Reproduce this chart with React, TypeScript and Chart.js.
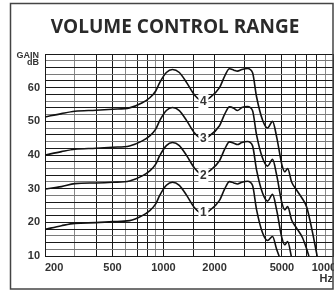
import React, { useEffect, useRef } from 'react';
import { Chart, registerables } from 'chart.js';
Chart.register(...registerables);

const chartTitle = 'VOLUME CONTROL RANGE';
const yAxisTitle = ['GAIN', 'dB'];
const xUnit = 'Hz';

const gridFreqs = [200, 300, 400, 500, 600, 700, 800, 900, 1000, 1500, 2000, 3000, 4000, 5000, 6000, 7000, 8000, 9000, 10000];
const grayFreqs = [300, 600, 900, 9000];
const xLabelFreqs = [200, 500, 1000, 2000, 5000, 10000];
const gainTicks = [10, 12, 14, 16, 18, 20, 22, 24, 26, 28, 30, 32, 34, 36, 38, 40, 42, 44, 46, 48, 50, 52, 54, 56, 58, 60, 62, 64, 66, 68, 70];
const grayGains = [12, 16, 24, 28, 32, 36, 44, 48, 52, 56, 64, 68];
const gainLabels = [10, 20, 30, 40, 50, 60];

const freq4 = [200, 250, 300, 400, 500, 630, 750, 830, 900, 950, 1040, 1130, 1240, 1370, 1520, 1700, 1870, 2140, 2300, 2450, 2600, 2730, 2900, 3130, 3350, 3540, 3840, 4110, 4400, 4650, 5000, 5200, 5400, 5700, 6100, 6600, 7000, 7500, 8100];
const gain4 = [51.3, 52.3, 53, 53.3, 53.6, 54, 55.5, 57, 59, 61.5, 64.5, 65.4, 64.5, 61.5, 57.9, 56, 57, 60, 63.5, 65.6, 65.2, 64.9, 65.4, 65.7, 64.5, 57.3, 50.4, 48, 50, 45.4, 37, 35, 36, 32, 29.6, 27, 24.5, 18, 9.5];

const freq3 = [200, 250, 300, 400, 500, 630, 750, 830, 900, 950, 1040, 1130, 1240, 1370, 1520, 1700, 1870, 2140, 2300, 2450, 2600, 2730, 2900, 3130, 3350, 3540, 3840, 4110, 4400, 4650, 5000, 5200, 5400, 5700, 6100, 6600, 7000, 7250];
const gain3 = [40, 41, 41.7, 42, 42.3, 42.7, 44.2, 45.7, 47.7, 50.2, 53.2, 54.1, 53.2, 50.2, 46.6, 44.8, 45.7, 48.7, 52.2, 54.3, 53.9, 53.2, 54.1, 54.4, 53.2, 46, 39.1, 36.7, 38.7, 34.1, 25.7, 23.7, 24.7, 20.7, 18.3, 15.5, 12, 9.5];

const freq2 = [200, 250, 300, 400, 500, 630, 750, 830, 900, 950, 1040, 1130, 1240, 1370, 1520, 1700, 1870, 2140, 2300, 2450, 2600, 2730, 2900, 3130, 3350, 3540, 3840, 4110, 4400, 4650, 5000, 5200, 5400, 5700];
const gain2 = [29.9, 30.6, 31.5, 31.7, 31.9, 32.3, 33.8, 35.3, 37.3, 39.8, 42.8, 43.7, 42.8, 39.8, 36.2, 34.2, 35.3, 38.3, 41.8, 43.9, 43.5, 43.1, 43.7, 44, 42.8, 35.6, 28.7, 26.3, 28.3, 23.7, 15.3, 13.3, 14.3, 9.5];

const freq1 = [200, 250, 300, 400, 500, 630, 750, 830, 900, 950, 1040, 1130, 1240, 1370, 1520, 1700, 1870, 2140, 2300, 2450, 2600, 2730, 2900, 3130, 3350, 3540, 3840, 4110, 4400, 4650, 4850];
const gain1 = [17.9, 19, 19.7, 19.9, 20.2, 20.5, 22, 23.5, 25.5, 28, 31, 31.9, 31, 28, 24.4, 22.6, 23.5, 26.5, 30, 32.1, 31.7, 31.4, 31.9, 32.2, 31, 23.8, 16.9, 14.6, 15.8, 12, 9.5];

const curveNames = ['1', '2', '3', '4'];
const curveLabelFreq = 1720;
const curveLabelGains = [23, 34, 45, 56];

const FONT = '"Liberation Sans", Arial, sans-serif';

export default function App() {
  const ref = useRef<HTMLCanvasElement>(null);
  useEffect(() => {
    const canvas = ref.current!;
    const mk = (f: number[], g: number[]) => f.map((x, i) => ({ x, y: g[i] }));
    const series = [mk(freq1, gain1), mk(freq2, gain2), mk(freq3, gain3), mk(freq4, gain4)];

    const deco = {
      id: 'deco',
      afterDraw(chart: any) {
        const ctx = chart.ctx as CanvasRenderingContext2D;
        const xs = chart.scales.x;
        const ys = chart.scales.y;
        const area = chart.chartArea;
        ctx.save();
        // curve number labels
        ctx.font = `bold 12px ${FONT}`;
        ctx.textAlign = 'center';
        ctx.textBaseline = 'middle';
        curveNames.forEach((n, i) => {
          const px = xs.getPixelForValue(curveLabelFreq);
          const py = ys.getPixelForValue(curveLabelGains[i]);
          ctx.fillStyle = '#fff';
          ctx.fillRect(px - 5, py - 7, 10, 14);
          ctx.fillStyle = '#333';
          ctx.fillText(n, px, py + 0.5);
        });
        // x labels
        ctx.font = `bold 11px ${FONT}`;
        ctx.fillStyle = '#333';
        xLabelFreqs.forEach((f, i) => {
          const px = xs.getPixelForValue(f);
          if (i === 0) {
            ctx.textAlign = 'left';
            ctx.fillText(String(f), px, area.bottom + 12);
          } else if (i === xLabelFreqs.length - 1) {
            ctx.textAlign = 'center';
            ctx.fillText(String(f), px - 6, area.bottom + 12);
          } else {
            ctx.textAlign = 'center';
            ctx.fillText(String(f), px, area.bottom + 12);
          }
        });
        ctx.textAlign = 'right';
        ctx.fillText(xUnit, area.right, area.bottom + 23);
        // GAIN dB
        ctx.font = `bold 9px ${FONT}`;
        ctx.textAlign = 'right';
        ctx.fillText(yAxisTitle[0], area.left - 6, area.top + 2);
        ctx.fillText(yAxisTitle[1], area.left - 6, area.top + 9);
        // title
        ctx.font = `bold 19px "Open Sans", sans-serif`;
        ctx.textAlign = 'center';
        ctx.fillStyle = '#2a2a2a';
        ctx.fillText(chartTitle, 175, 28);
        // outer border
        ctx.strokeStyle = '#444';
        ctx.lineWidth = 1.5;
        ctx.strokeRect(10.5, 3.5, 322.5, 285.5);
        ctx.restore();
      },
    };

    const chart = new Chart(canvas, {
      type: 'line',
      data: {
        datasets: series.map((d) => ({
          data: d,
          borderColor: '#111',
          borderWidth: 1.6,
          pointRadius: 0,
          fill: false,
          cubicInterpolationMode: 'monotone' as const,
        })),
      },
      options: {
        animation: false,
        responsive: false,
        layout: { padding: { top: 54, right: 1, left: 0, bottom: 0 } },
        plugins: { legend: { display: false }, tooltip: { enabled: false }, title: { display: false } },
        scales: {
          x: {
            type: 'logarithmic',
            min: 200,
            max: 10000,
            afterBuildTicks: (s: any) => { s.ticks = gridFreqs.map((v) => ({ value: v })); },
            afterFit: (s: any) => { s.height = 37; },
            ticks: { display: false },
            grid: {
              drawTicks: false,
              lineWidth: 1,
              color: (c: any) => (grayFreqs.includes(c.tick?.value) ? '#8a8a8a' : '#1a1a1a'),
            },
            border: { display: true, color: '#1a1a1a', width: 1 },
          },
          y: {
            type: 'linear',
            min: 10,
            max: 70,
            afterBuildTicks: (s: any) => { s.ticks = gainTicks.map((v) => ({ value: v })); },
            afterFit: (s: any) => { s.width = 45; },
            ticks: {
              autoSkip: false,
              padding: 5,
              color: '#333',
              font: { family: FONT, size: 11, weight: 'bold' },
              callback: (v: any) => (gainLabels.includes(Number(v)) ? String(v) : ''),
            },
            grid: {
              drawTicks: false,
              lineWidth: 1,
              color: (c: any) => (grayGains.includes(c.tick?.value) ? '#7a7a7a' : '#1a1a1a'),
            },
            border: { display: true, color: '#1a1a1a', width: 1 },
          },
        },
      },
      plugins: [deco],
    });
    return () => chart.destroy();
  }, []);
  return (
    <div style={{ position: 'absolute', left: 0, top: 0, width: 334, height: 293, background: '#fff' }}>
      <canvas ref={ref} width={334} height={293} style={{ display: 'block' }} />
    </div>
  );
}
